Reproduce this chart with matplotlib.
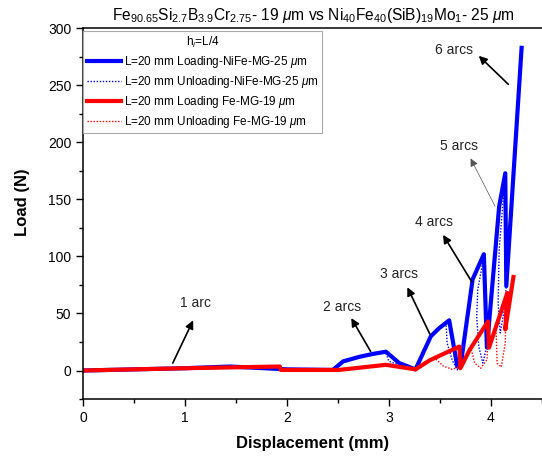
import numpy as np
import matplotlib
matplotlib.use("Agg")
import matplotlib.pyplot as plt
from matplotlib.ticker import MultipleLocator

plt.rcParams['font.family'] = ['Liberation Sans', 'DejaVu Sans']
plt.rcParams['mathtext.fontset'] = 'custom'
plt.rcParams['mathtext.rm'] = 'Liberation Sans'
plt.rcParams['mathtext.it'] = 'Liberation Sans:italic'
plt.rcParams['mathtext.bf'] = 'Liberation Sans:bold'

nan = np.nan

# Ni40Fe40(SiB)19Mo1 - 25 um : loading
blue_load_x = [0, 0.5, 1.0, 1.44, 2.0, 2.45, 2.55, 2.71, 2.84, 2.97, 3.10, 3.26, 3.41, 3.49, 3.59,
               3.67, 3.70, 3.82, 3.93, 3.96, 4.08, 4.14, 4.15, 4.30]
blue_load_y = [0, 1, 2, 3.5, 1, 0.5, 8, 12, 14.5, 16.5, 6.5, 1, 30, 37, 44,
               3.5, 3, 80, 102, 20, 144, 173, 74, 283]
# unloading (separate arcs)
blue_unl_x = [2.97, 3.00, 3.10, 3.20, 3.26, nan,
              3.59, 3.56, 3.57, 3.62, 3.67, 3.70, nan,
              3.93, 3.87, 3.86, 3.88, 3.92, 3.95, nan,
              4.14, 4.08, 4.07, 4.09, 4.13, 4.15]
blue_unl_y = [15, 8, 5, 2, 1, nan,
              44, 40, 24, 9, 0.6, 3, nan,
              100, 71, 47, 21, 6.5, 18, nan,
              173, 106, 59, 33, 53, 74]

# Fe90.65Si2.7B3.9Cr2.75 - 19 um : loading
red_load_x = [0, 1.0, 1.93, 1.94, 2.51, 2.97, 3.26, 3.40, 3.69, 3.70, 3.79, 3.97, 3.98, 4.16, 4.14, 4.22]
red_load_y = [0, 2, 3.5, 0.5, 0.5, 5, 1, 9, 21, 2, 18, 43, 20, 68, 36, 82]
red_unl_x = [3.46, 3.53, 3.62, 3.68, 3.70, nan,
             3.80, 3.84, 3.90, 3.96, 3.98, nan,
             4.05, 4.06, 4.10, 4.14, 4.15]
red_unl_y = [10, 4, 1, 3, 10, nan,
             21, 6.5, 2, 9.5, 42, nan,
             36, 6.5, 3, 24, 69]

labels = [r"L=20 mm Loading-NiFe-MG-25 $\mu$m",
          r"L=20 mm Unloading-NiFe-MG-25 $\mu$m",
          r"L=20 mm Loading Fe-MG-19 $\mu$m",
          r"L=20 mm Unloading Fe-MG-19 $\mu$m"]

# annotations: text, text pos, arrow tip, arrow tail
ann_text = ["1 arc", "2 arcs", "3 arcs", "4 arcs", "5 arcs", "6 arcs"]
ann_text_xy = [(1.10, 59), (2.54, 56), (3.10, 85), (3.44, 130), (3.69, 197), (3.64, 281)]
ann_tip = [(1.08, 44), (2.63, 46), (3.18, 73), (3.53, 119), (3.80, 186), (3.88, 276)]
ann_tail = [(0.88, 6.5), (2.82, 16.7), (3.40, 32), (3.81, 78), (4.04, 144), (4.17, 251)]
ann_lw = [1.2, 1.2, 1.2, 1.2, 0.5, 1.2]
ann_col = ['black', 'black', 'black', 'black', '#555555', 'black']

fig = plt.figure(figsize=(5.42, 4.59), dpi=100)
ax = fig.add_axes([0.1531, 0.1307, 0.8469, 0.8073])

ax.plot(blue_load_x, blue_load_y, color='#0000ff', lw=3.0, label=labels[0], solid_joinstyle='round')
ax.plot(blue_unl_x, blue_unl_y, color='#0000ff', lw=1.0, ls=(0, (1, 1.2)), label=labels[1])
ax.plot(red_load_x, red_load_y, color='#ff0000', lw=3.0, label=labels[2], solid_joinstyle='round')
ax.plot(red_unl_x, red_unl_y, color='#ff0000', lw=1.0, ls=(0, (1, 1.2)), label=labels[3])

for t, txy, tip, tail, lw, c in zip(ann_text, ann_text_xy, ann_tip, ann_tail, ann_lw, ann_col):
    ax.annotate('', xy=tip, xytext=tail,
                arrowprops=dict(arrowstyle='-|>', color=c, lw=lw, mutation_scale=12,
                                shrinkA=0, shrinkB=0))
    ax.text(txy[0], txy[1], t, ha='center', va='center', fontsize=10, color='#222222')

ax.set_xlim(0, 4.5)
ax.set_ylim(-25, 300)
ax.xaxis.set_major_locator(MultipleLocator(1))
ax.xaxis.set_minor_locator(MultipleLocator(0.5))
ax.yaxis.set_major_locator(MultipleLocator(50))
ax.yaxis.set_minor_locator(MultipleLocator(25))
ax.tick_params(which='major', direction='out', length=5, width=1, labelsize=10, colors='black')
ax.tick_params(which='minor', direction='out', length=3, width=1)
for s in ax.spines.values():
    s.set_linewidth(1.1)
ax.spines['right'].set_visible(False)

ax.set_xlabel('Displacement (mm)', fontsize=12, fontweight='bold', labelpad=8)
ax.set_ylabel('Load (N)', fontsize=12, fontweight='bold', labelpad=12)
ax.yaxis.set_label_coords(-0.115, 0.53)

fig.text(0.578, 0.967,
         r"Fe$_{90.65}$Si$_{2.7}$B$_{3.9}$Cr$_{2.75}$- 19 $\mu$m vs Ni$_{40}$Fe$_{40}$(SiB)$_{19}$Mo$_1$- 25 $\mu$m",
         ha='center', va='center', fontsize=11.2)

leg = ax.legend(loc='upper left', bbox_to_anchor=(0.0, 0.992), borderaxespad=0,
                title=r"h$_i$=L/4", fontsize=8.5, title_fontsize=8.5,
                frameon=True, fancybox=False, edgecolor='#aaaaaa', framealpha=1,
                handlelength=2.9, handletextpad=0.25, labelspacing=0.33, borderpad=0.3)
leg.get_frame().set_linewidth(0.8)

fig.savefig('out.png', dpi=100)
